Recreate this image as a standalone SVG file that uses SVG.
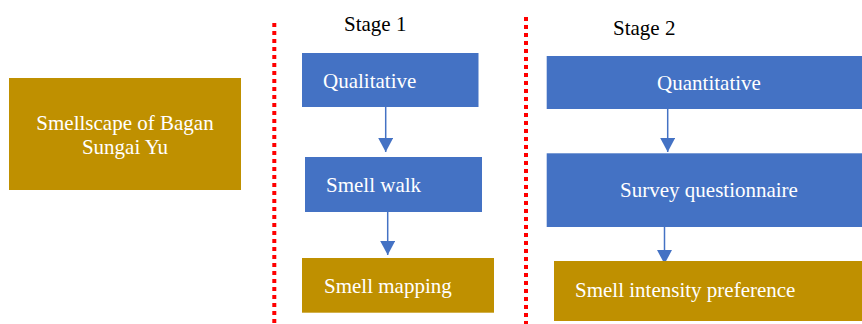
<svg xmlns="http://www.w3.org/2000/svg" width="862" height="324" viewBox="0 0 862 324">
<style>
.gold{fill:#BF9000}
.blue{fill:#4472C4}
.t{font-family:"Liberation Serif","Times New Roman",serif;font-size:21px;fill:#FFFFFF}
.h{font-family:"Liberation Serif","Times New Roman",serif;font-size:21px;fill:#000000}
.sep{stroke:#FF0000;stroke-width:4;stroke-dasharray:4 4;fill:none}
.conn{stroke:#4472C4;stroke-width:1.5;fill:none;marker-end:url(#ah)}
</style>
<defs>
<marker id="ah" markerUnits="userSpaceOnUse" markerWidth="15" markerHeight="15" refX="14" refY="7.5" orient="auto">
<path d="M0,0 L14,7.5 L0,15 z" fill="#4472C4"/>
</marker>
</defs>
<rect width="862" height="324" fill="#FFFFFF"/>
<g id="separators">
<line class="sep" x1="274.3" y1="23" x2="274.3" y2="324"/>
<line class="sep" x1="526" y1="17" x2="526" y2="324"/>
</g>
<g id="connectors">
<line class="conn" x1="385.7" y1="107" x2="385.7" y2="152"/>
<line class="conn" x1="387.7" y1="212" x2="387.7" y2="255"/>
<line class="conn" x1="667.7" y1="109" x2="667.7" y2="152"/>
<line class="conn" x1="664.5" y1="227" x2="664.5" y2="264"/>
</g>
<g id="stage1-label"><text class="h" x="344" y="31">Stage 1</text></g>
<g id="stage2-label"><text class="h" x="613" y="35">Stage 2</text></g>
<g id="smellscape">
<rect class="gold" x="9" y="78" width="232" height="112"/>
<text class="t" x="125" y="130" text-anchor="middle">Smellscape of Bagan</text>
<text class="t" x="125" y="154" text-anchor="middle">Sungai Yu</text>
</g>
<g id="qualitative">
<rect class="blue" x="302" y="53" width="176.5" height="54"/>
<text class="t" x="323" y="88.3">Qualitative</text>
</g>
<g id="smell-walk">
<rect class="blue" x="305" y="157" width="177" height="55"/>
<text class="t" x="326" y="192.3">Smell walk</text>
</g>
<g id="smell-mapping">
<rect class="gold" x="302" y="258" width="192" height="54.7"/>
<text class="t" x="324" y="292.7">Smell mapping</text>
</g>
<g id="quantitative">
<rect class="blue" x="546.7" y="56" width="315.3" height="53"/>
<text class="t" x="709" y="90" text-anchor="middle">Quantitative</text>
</g>
<g id="survey">
<rect class="blue" x="546.7" y="153.3" width="315.3" height="73.7"/>
<text class="t" x="709" y="197.3" text-anchor="middle">Survey questionnaire</text>
</g>
<g id="smell-intensity">
<rect class="gold" x="554" y="261" width="308" height="60"/>
<text class="t" x="575" y="296.7">Smell intensity preference</text>
</g>
</svg>
